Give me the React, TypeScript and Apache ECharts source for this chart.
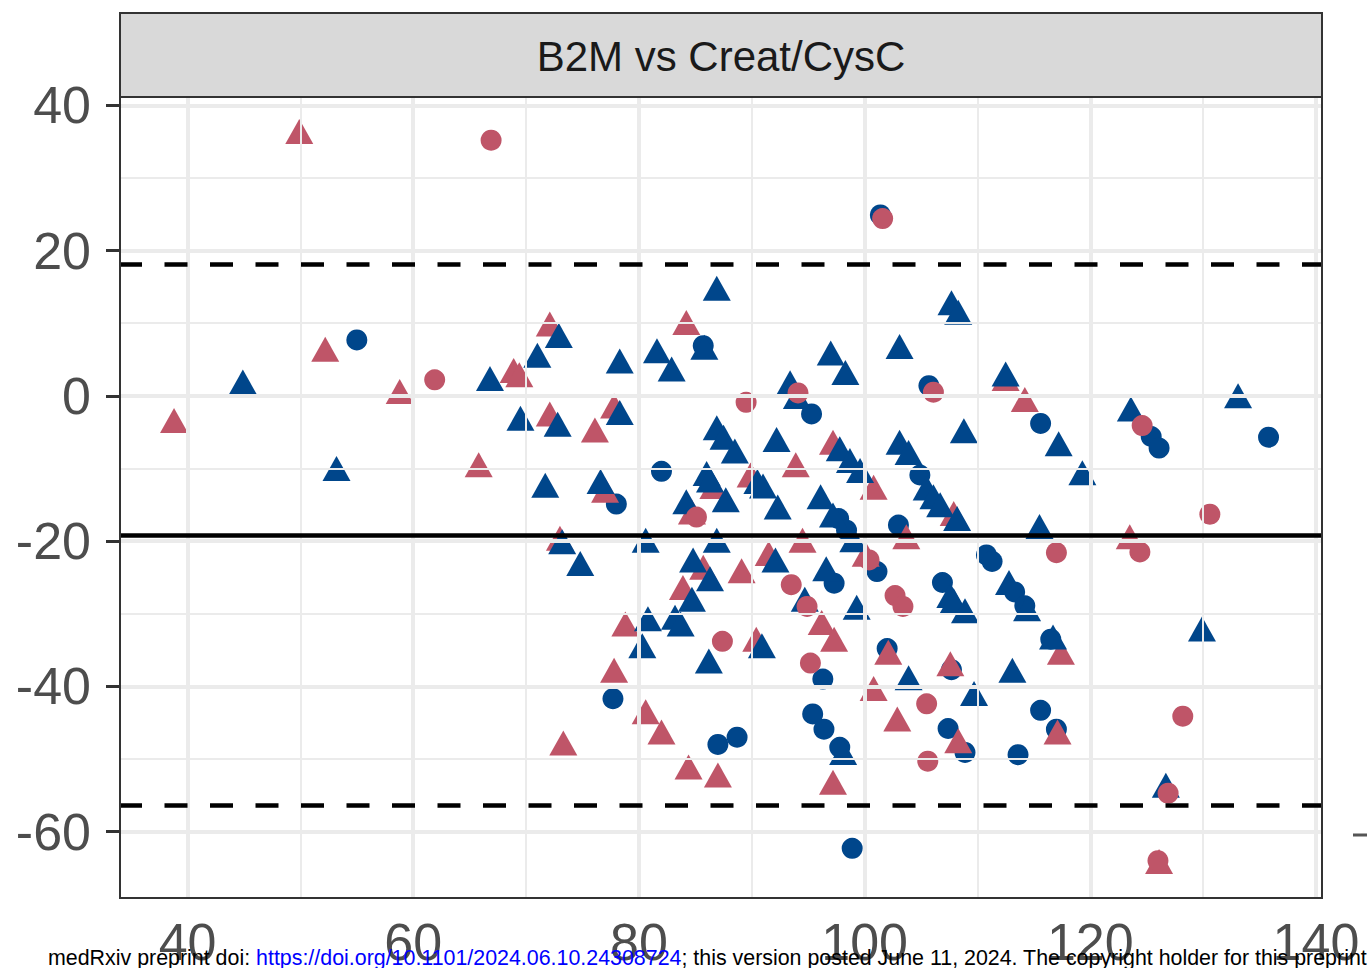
import React, { useEffect, useRef } from "react";
import * as echarts from "echarts";

// ---- axis / reference values ----
const xTicks = [40, 60, 80, 100, 120, 140];
const xMinor = [50, 70, 90, 110, 130];
const yTicks = [-60, -40, -20, 0, 20, 40];
const yMinor = [-50, -30, -10, 10, 30];
const meanDiff = -19.2;
const upperLoA = 18.1;
const lowerLoA = -56.4;
const stripTitle = "B2M vs Creat/CysC";

// ---- points: [mean, difference] ----
const blueCircles: [number, number][] = [
  [55.0, 7.7], [101.4, 24.9], [85.7, 6.9], [95.3, -2.5], [78.0, -14.9], [82.0, -10.4],
  [97.7, -16.9], [98.4, -18.5], [101.1, -24.2], [104.9, -10.9], [103.0, -17.8], [97.3, -25.8],
  [102.0, -34.8], [96.3, -39.0], [95.4, -43.8], [96.4, -45.9], [97.8, -48.4], [98.9, -62.3],
  [77.7, -41.7], [87.0, -48.0], [88.7, -47.0], [105.7, 1.4], [115.6, -3.8], [125.4, -5.6],
  [126.1, -7.2], [135.8, -5.7], [110.8, -21.9], [111.3, -22.8], [106.9, -25.7], [113.3, -27.0],
  [114.2, -28.9], [116.5, -33.5], [107.7, -37.7], [115.6, -43.3], [117.0, -45.9], [107.4, -45.8],
  [108.9, -49.1], [113.6, -49.4],
];

const blueTriangles: [number, number][] = [
  [44.9, 1.9], [53.2, -10.0], [66.8, 2.4], [69.5, -3.1], [86.9, 14.8], [72.9, 8.3],
  [71.0, 5.6], [78.3, 4.8], [81.6, 6.2], [82.9, 3.7], [85.8, 6.7], [97.0, 5.9],
  [98.3, 3.2], [103.1, 6.8], [72.8, -3.9], [78.3, -2.3], [93.4, 1.8], [94.0, -0.1],
  [86.9, -4.4], [87.5, -5.7], [88.5, -7.6], [92.2, -6.0], [97.8, -7.3], [98.7, -8.9],
  [99.6, -10.3], [103.1, -6.4], [103.9, -7.8], [71.7, -12.3], [76.6, -11.8], [86.0, -10.7],
  [86.3, -11.6], [84.2, -14.6], [87.7, -14.3], [90.5, -11.8], [91.0, -12.4], [92.3, -15.3],
  [96.1, -13.9], [97.2, -16.4], [99.0, -19.8], [73.2, -20.1], [74.8, -23.1], [80.6, -19.9],
  [86.9, -19.9], [84.8, -22.6], [92.1, -22.6], [96.6, -23.8], [86.3, -25.2], [84.7, -28.0],
  [94.7, -28.0], [99.3, -29.1], [103.9, -38.8], [90.9, -34.4], [86.2, -36.5], [98.1, -49.1],
  [80.8, -30.7], [83.2, -30.5], [83.7, -31.4], [80.3, -34.4], [107.7, 12.8], [108.3, 11.5],
  [112.5, 3.0], [108.8, -4.8], [117.2, -6.6], [119.3, -10.6], [123.6, -1.8], [133.1, 0.0],
  [105.5, -12.7], [106.1, -13.9], [106.7, -15.0], [108.2, -16.9], [115.5, -18.0], [107.6, -27.5],
  [107.9, -28.2], [108.9, -29.6], [112.8, -25.7], [114.4, -29.3], [116.7, -33.2], [129.9, -32.1],
  [113.1, -37.8], [109.7, -41.0], [126.7, -53.6],
];

const redCircles: [number, number][] = [
  [66.9, 35.2], [61.9, 2.2], [101.6, 24.4], [89.5, -0.9], [94.1, 0.4], [85.1, -16.7],
  [100.4, -22.6], [93.5, -26.0], [94.9, -29.0], [102.7, -27.5], [103.4, -29.0], [105.5, -42.4],
  [105.6, -50.3], [87.4, -33.8], [95.2, -36.8], [106.1, 0.5], [124.6, -4.1], [117.0, -21.6],
  [124.4, -21.5], [130.6, -16.3], [128.2, -44.1], [126.9, -54.7], [126.0, -64.0],
];

const redTriangles: [number, number][] = [
  [49.9, 36.4], [52.2, 6.4], [58.8, 0.6], [68.9, 3.5], [69.4, 2.9], [38.8, -3.4],
  [65.8, -9.5], [72.1, 9.9], [84.2, 10.1], [72.1, -2.5], [77.8, -1.4], [76.1, -4.7],
  [93.9, -9.5], [97.2, -6.4], [100.8, -12.6], [77.0, -13.0], [86.6, -12.5], [84.7, -16.0],
  [89.9, -10.9], [103.7, -19.4], [73.0, -19.6], [85.7, -23.6], [91.5, -21.7], [94.5, -19.9],
  [83.9, -26.4], [89.1, -24.1], [96.2, -31.2], [97.3, -33.5], [100.1, -21.8], [102.1, -35.3],
  [100.8, -40.3], [102.9, -44.5], [90.4, -33.5], [78.8, -31.4], [77.8, -37.8], [80.6, -43.5],
  [82.0, -46.3], [84.4, -51.1], [87.0, -52.2], [73.3, -47.8], [97.2, -53.2], [112.5, 2.4],
  [114.2, -0.5], [107.9, -16.2], [123.5, -19.4], [117.4, -35.3], [107.6, -36.9], [117.1, -46.3],
  [108.3, -47.5], [126.1, -64.1],
];

const BLUE = "#00468B";
const RED = "#BF5568";
const FONT = "'Liberation Sans', Arial, Helvetica, sans-serif";

export default function App() {
  const ref = useRef<HTMLDivElement>(null);

  useEffect(() => {
    if (!ref.current) return;
    const chart = echarts.init(ref.current, undefined, { renderer: "svg" });

    const gridMajor = { color: "#EBEBEB", width: 4, type: "solid" };
    const gridMinor = { color: "#EBEBEB", width: 2, type: "solid" };

    const gridLines = [
      ...xMinor.map((v) => ({ xAxis: v, lineStyle: gridMinor })),
      ...yMinor.map((v) => ({ yAxis: v, lineStyle: gridMinor })),
      ...xTicks.map((v) => ({ xAxis: v, lineStyle: gridMajor })),
      ...yTicks.map((v) => ({ yAxis: v, lineStyle: gridMajor })),
    ];

    const pointSeries = (name: string, data: [number, number][], symbol: string, size: any, color: string) => ({
      type: "scatter",
      name,
      data,
      symbol,
      symbolSize: size,
      silent: true,
      z: 3,
      itemStyle: { color, opacity: 1 },
      emphasis: { disabled: true },
    });

    const option: any = {
      animation: false,
      backgroundColor: "#ffffff",
      textStyle: { fontFamily: FONT },
      grid: {
        left: 121,
        top: 98,
        width: 1200,
        height: 799,
        show: true,
        backgroundColor: "#ffffff",
        borderWidth: 0,
      },
      xAxis: {
        type: "value",
        min: 34.1,
        max: 140.45,
        axisLine: { show: false },
        splitLine: { show: false },
        axisTick: {
          show: true,
          customValues: xTicks,
          length: 15,
          lineStyle: { color: "#333333", width: 3 },
        },
        axisLabel: {
          customValues: xTicks,
          fontSize: 52,
          color: "#4D4D4D",
          fontFamily: FONT,
          margin: 19,
        },
      },
      yAxis: {
        type: "value",
        min: -69,
        max: 41,
        axisLine: { show: false },
        splitLine: { show: false },
        axisTick: {
          show: true,
          customValues: yTicks,
          length: 15,
          lineStyle: { color: "#333333", width: 3 },
        },
        axisLabel: {
          customValues: yTicks,
          fontSize: 52,
          color: "#4D4D4D",
          fontFamily: FONT,
          margin: 30,
        },
      },
      series: [
        {
          type: "scatter",
          data: [],
          z: 1,
          markLine: {
            silent: true,
            symbol: ["none", "none"],
            label: { show: false },
            emphasis: { disabled: true },
            data: gridLines,
          },
        },
        pointSeries("bc", blueCircles, "circle", 21, BLUE),
        pointSeries("rt", redTriangles, "triangle", [28, 25], RED),
        pointSeries("bt", blueTriangles, "triangle", [28, 25], BLUE),
        pointSeries("rc", redCircles, "circle", 21, RED),
        {
          type: "scatter",
          data: [],
          z: 5,
          markLine: {
            silent: true,
            symbol: ["none", "none"],
            label: { show: false },
            emphasis: { disabled: true },
            data: [
              { yAxis: meanDiff, lineStyle: { color: "#000000", width: 4.5, type: "solid" } },
              { yAxis: upperLoA, lineStyle: { color: "#000000", width: 4.5, type: [23, 22.5], dashOffset: 2.2 } },
              { yAxis: lowerLoA, lineStyle: { color: "#000000", width: 4.5, type: [23, 22.5], dashOffset: 2.2 } },
            ],
          },
        },
      ],
      graphic: [
        {
          type: "rect",
          z: 100,
          shape: { x: 120, y: 97, width: 1202, height: 801 },
          style: { fill: "none", stroke: "#333333", lineWidth: 2 },
        },
        {
          type: "rect",
          z: 100,
          shape: { x: 120, y: 13, width: 1202, height: 84 },
          style: { fill: "#D9D9D9", stroke: "#333333", lineWidth: 2 },
        },
        {
          type: "text",
          z: 101,
          x: 721,
          y: 56,
          style: {
            text: stripTitle,
            fill: "#1A1A1A",
            fontSize: 42,
            fontFamily: FONT,
            textAlign: "center",
            textVerticalAlign: "middle",
          },
        },
        {
          type: "line",
          z: 100,
          shape: { x1: 1353, y1: 835, x2: 1367, y2: 835 },
          style: { stroke: "#555555", lineWidth: 3 },
        },
        {
          type: "text",
          z: 200,
          x: 48,
          y: 958,
          style: {
            text:
              "{a|medRxiv preprint doi: }{b|https://doi.org/10.1101/2024.06.10.24308724}{a|; this version posted June 11, 2024. The copyright holder for this preprint}",
            fontSize: 21.4,
            fontFamily: FONT,
            textVerticalAlign: "middle",
            rich: {
              a: { fill: "#000000", fontSize: 21.4, fontFamily: FONT },
              b: { fill: "#0000FF", fontSize: 21.4, fontFamily: FONT },
            },
          },
        },
      ],
    };

    chart.setOption(option);
    return () => chart.dispose();
  }, []);

  return (
    <div
      ref={ref}
      style={{ position: "absolute", left: 0, top: 0, width: 1371, height: 968, overflow: "hidden" }}
    />
  );
}
